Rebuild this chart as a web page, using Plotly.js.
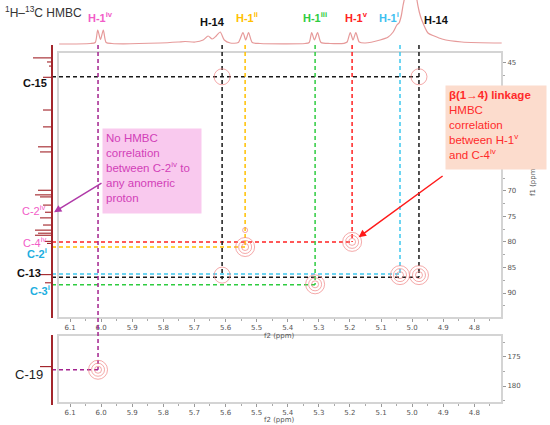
<!DOCTYPE html>
<html>
<head>
<meta charset="utf-8">
<title>1H-13C HMBC</title>
<script src="https://cdn.plot.ly/plotly-3.0.1.min.js"></script>
<style>
  html, body { margin: 0; padding: 0; background: #fff; }
  #hmbc { width: 550px; height: 425px; }
</style>
</head>
<body>
<div id="hmbc"></div>
<script>
(function() {
  "use strict";

  // 1H projection on top (ppm, intensity)
  var protonPpm = [6.135, 6.035, 6.019, 6.011, 6.002, 5.993, 5.984, 5.965, 5.810, 5.752,
                   5.730, 5.698, 5.672, 5.656, 5.643, 5.630, 5.617, 5.604, 5.585, 5.559,
                   5.544, 5.535, 5.526, 5.514, 5.489, 5.344, 5.331, 5.323, 5.314, 5.304,
                   5.293, 5.264, 5.219, 5.209, 5.199, 5.190, 5.181, 5.170, 5.151, 5.103,
                   5.077, 5.061, 5.049, 5.042, 5.035, 5.029, 5.023, 5.003, 4.985, 4.977,
                   4.969, 4.949, 4.929, 4.904, 4.840, 4.712];
  var protonInt = [0, 0.5, 1.5, 14, 4.5, 14, 1.5, 0.5, 1, 2,
                   2.5, 2, 4, 8, 5, 8, 12, 4, 1, 1.5,
                   11.5, 4, 11.5, 1.5, 0.5, 0.5, 1.5, 11.5, 4, 11.5,
                   1.5, 0.5, 0.7, 2, 11.5, 4, 11.5, 2, 1, 4,
                   7, 12, 19, 21, 28, 39, 48, 100, 45, 32,
                   24, 11, 8, 5, 2, 1];

  // 13C projection on the left (ppm, stick height)
  var carbonPpm = [44.0, 44.8, 45.6, 47.8, 54.2, 57.5, 61.4, 62.4, 69.9, 70.8, 71.2,
                   72.8, 74.2, 75.3, 76.7, 77.7, 78.3, 78.7, 79.9, 80.3, 86.4, 88.0];
  var carbonInt = [19, 5, 3, 9, 9, 9, 14, 12, 14, 17, 12,
                   9, 7, 12, 9, 17, 14, 17, 7, 5, 12, 7];
  var carbonLowPpm = [177.2];
  var carbonLowInt = [12];

  // cross peaks (f2 = 1H, f1 = 13C) and number of contour levels
  var peakF2 = [5.611, 4.978, 5.537, 5.537, 5.193, 5.611, 5.312, 5.039, 4.978];
  var peakF1 = [47.7, 47.7, 81.0, 77.7, 80.0, 86.5, 88.3, 86.5, 86.5];
  var peakLevels = [1, 1, 3, 0, 3, 1, 3, 3, 3];
  var lowPeakF2 = [6.010];
  var lowPeakF1 = [177.2];
  var lowPeakLevels = [3];

  // proton guide lines (vertical): position and where they stop
  var hLineF2 = [5.611, 5.537, 5.312, 5.193, 5.039, 4.978];
  var hLineEnd = [87.3, 81.0, 88.4, 80.0, 86.3, 86.9];
  var hLineColor = ["#1a1a1a", "#ffc000", "#2ecc40", "#ff2222", "#3ec8ee", "#1a1a1a"];
  var anomericF2 = 6.010;   // H-1iv, runs down to C-19

  // carbon guide lines (horizontal): position and where they stop
  var cLineF1 = [47.7, 80.0, 81.0, 86.3, 86.9, 88.4];
  var cLineEnd = [4.978, 5.193, 5.537, 5.039, 4.978, 5.312];
  var cLineColor = ["#1a1a1a", "#ff2222", "#ffc000", "#3ec8ee", "#1a1a1a", "#2ecc40"];
  var c19F1 = 177.2;

  // labels
  var protonLabels = ["H-1<sup>iv</sup>", "H-14", "H-1<sup>ii</sup>", "H-1<sup>iii</sup>",
                      "H-1<sup>v</sup>", "H-1<sup>i</sup>", "H-14"];
  var protonLabelF2 = [6.010, 5.611, 5.537, 5.312, 5.193, 5.039, 4.978];
  var carbonLabels = ["<b>C-15</b>", "C-2<sup>iv</sup>", "C-4<sup>iv</sup>", "<b>C-2<sup>i</sup></b>",
                      "<b>C-13</b>", "<b>C-3<sup>i</sup></b>"];
  var carbonLabelF1 = [47.7, 74.2, 80.0, 81.0, 86.5, 88.4];

  // axis ticks (50-65 sit under the callout box, so their labels are blank)
  var f2Ticks = [6.1, 6.0, 5.9, 5.8, 5.7, 5.6, 5.5, 5.4, 5.3, 5.2, 5.1, 5.0, 4.9, 4.8];
  var f2Minor = [6.05, 5.95, 5.85, 5.75, 5.65, 5.55, 5.45, 5.35, 5.25, 5.15, 5.05, 4.95, 4.85, 4.75];
  var f1Ticks = [45, 50, 55, 60, 65, 70, 75, 80, 85, 90];
  var f1TickText = ["45", "", "", "", "", "70", "75", "80", "85", "90"];
  var f1Minor = [47.5, 52.5, 57.5, 62.5, 67.5, 72.5, 77.5, 82.5, 87.5, 92.5];
  var f1LowTicks = [175, 180];
  var f1LowMinor = [172.5, 177.5, 182.5];


  var W = 550, H = 425;
  function px(x) { return x / W; }
  function py(y) { return 1 - y / H; }

  var f2Range = [6.158, 4.711];
  var f1Range = [94.89, 41.48];
  var f1LowRange = [182.93, 168.28];
  var ringColor = "#f08585";
  var ringSizes = { 0: [5], 1: [16], 3: [19, 13, 7] };
  var tickFont = { family: "DejaVu Sans, sans-serif", size: 7, color: "#555" };
  var labelFont = "Liberation Sans, Arial, sans-serif";


  function dashed(x, y, color, xa, ya) {
    return {
      type: "scatter", mode: "lines", x: x, y: y, xaxis: xa, yaxis: ya,
      line: { color: color, width: 1.5, dash: "4px,3px" },
      hoverinfo: "skip", showlegend: false
    };
  }


  function rings(f2, f1, levels, xa, ya) {
    var out = [];
    for (var k = 0; k < 3; k += 1) {
      var xs = [], ys = [], sizes = [];
      for (var i = 0; i < f2.length; i += 1) {
        var s = ringSizes[levels[i]];
        if (k < s.length) {
          xs.push(f2[i]);
          ys.push(f1[i]);
          sizes.push(s[k]);
        }
      }
      out.push({
        type: "scatter", mode: "markers", x: xs, y: ys, xaxis: xa, yaxis: ya,
        marker: { symbol: "circle-open", size: sizes, color: ringColor, line: { width: 1, color: ringColor } },
        hoverinfo: "skip", showlegend: false
      });
    }
    return out;
  }


  // annotation helper: always centred, plotly's auto anchors shift paper positions
  function label(opts) {
    var a = { showarrow: false, xanchor: "center", yanchor: "middle" };
    for (var k in opts) { a[k] = opts[k]; }
    return a;
  }


  function main() {
    var data = [];

    data.push({
      type: "scatter", mode: "lines", x: protonPpm, y: protonInt, xaxis: "x", yaxis: "y3",
      line: { color: "#e69a9a", width: 1.2, shape: "spline", smoothing: 0.7 },
      hoverinfo: "skip", showlegend: false
    });

    data.push({
      type: "bar", orientation: "h", x: carbonInt, y: carbonPpm, xaxis: "x3", yaxis: "y",
      width: 0.22, marker: { color: "#a3262c" }, hoverinfo: "skip", showlegend: false
    });
    data.push({
      type: "bar", orientation: "h", x: carbonLowInt, y: carbonLowPpm, xaxis: "x4", yaxis: "y4",
      width: 0.22, marker: { color: "#a3262c" }, hoverinfo: "skip", showlegend: false
    });

    var i;
    for (i = 0; i < cLineF1.length; i += 1) {
      data.push(dashed([f2Range[0], cLineEnd[i]], [cLineF1[i], cLineF1[i]], cLineColor[i], "x", "y"));
    }
    for (i = 0; i < hLineF2.length; i += 1) {
      data.push(dashed([hLineF2[i], hLineF2[i]], [f1Range[1], hLineEnd[i]], hLineColor[i], "x", "y"));
    }
    data.push(dashed([anomericF2, anomericF2], [f1Range[1], f1Range[0]], "#a3238f", "x", "y"));
    data.push(dashed([anomericF2, anomericF2], [f1LowRange[1], c19F1], "#a3238f", "x2", "y2"));
    data.push(dashed([f2Range[0], anomericF2], [c19F1, c19F1], "#a3238f", "x2", "y2"));

    data = data.concat(rings(peakF2, peakF1, peakLevels, "x", "y"));
    data = data.concat(rings(lowPeakF2, lowPeakF1, lowPeakLevels, "x2", "y2"));

    var xTicks = {
      range: f2Range, tickmode: "array", tickvals: f2Ticks,
      ticktext: f2Ticks.map(function(v) { return v.toFixed(1); }),
      ticks: "outside", ticklen: 3, tickcolor: "#999", tickfont: tickFont,
      minor: { tickmode: "array", tickvals: f2Minor, ticks: "outside", ticklen: 2, tickcolor: "#aaa" },
      showgrid: false, zeroline: false, showline: false
    };

    var annotations = [];
    annotations.push(label({
      xref: "paper", yref: "paper", x: px(3), y: py(12), xanchor: "left",
      text: "<sup>1</sup>H\u2013<sup>13</sup>C HMBC", font: { family: labelFont, size: 12, color: "#333" }
    }));

    var protonColors = ["#f25cc8", "#111", "#ffc000", "#2ecc40", "#ff2222", "#3ec0f0", "#111"];
    var protonShift = [2, -10, 2, 0, 4, -11, 18];
    var protonY = [17, 22, 17, 17, 17, 17, 20];
    for (i = 0; i < protonLabels.length; i += 1) {
      annotations.push(label({
        xref: "x", yref: "paper", x: protonLabelF2[i], y: py(protonY[i]), xshift: protonShift[i],
        text: "<b>" + protonLabels[i] + "</b>",
        font: { family: labelFont, size: 11, color: protonColors[i] }
      }));
    }

    var carbonColors = ["#111", "#f25cc8", "#f25cc8", "#20aee0", "#111", "#20aee0"];
    var carbonX = [35, 33, 34, 37, 29, 40];
    var carbonShift = [-6, 2, 0, -6, 2, -5];
    for (i = 0; i < carbonLabels.length; i += 1) {
      annotations.push(label({
        xref: "paper", yref: "y", x: px(carbonX[i]), y: carbonLabelF1[i], yshift: carbonShift[i],
        text: carbonLabels[i],
        font: { family: labelFont, size: 11, color: carbonColors[i] }
      }));
    }
    annotations.push(label({
      xref: "paper", yref: "y2", x: px(29), y: c19F1, yshift: -5,
      text: "C-19", font: { family: labelFont, size: 13, color: "#222" }
    }));

    annotations.push(label({
      xref: "paper", yref: "paper", x: px(533), y: py(181), textangle: -90,
      text: "f1 (ppm)", font: tickFont
    }));
    annotations.push(label({
      xref: "paper", yref: "paper", x: px(279), y: py(336),
      text: "f2 (ppm)", font: tickFont
    }));
    annotations.push(label({
      xref: "paper", yref: "paper", x: px(279), y: py(420),
      text: "f2 (ppm)", font: tickFont
    }));

    annotations.push(label({
      xref: "paper", yref: "paper", x: px(102), y: py(128), xanchor: "left", yanchor: "top",
      width: 92, height: 78, borderpad: 3, align: "left", valign: "top",
      bgcolor: "#f9c9ee",
      text: "No HMBC<br>correlation<br>between C-2<sup>iv</sup> to<br>any anomeric<br>proton",
      font: { family: labelFont, size: 11.5, color: "#d23fb8" }
    }));
    annotations.push(label({
      xref: "paper", yref: "paper", x: px(445), y: py(85), xanchor: "left", yanchor: "top",
      width: 94, height: 77, borderpad: 3, align: "left", valign: "top",
      bgcolor: "#fcdccd",
      text: "<b>\u03b2(1\u21924) linkage</b><br>HMBC<br>correlation<br>between H-1<sup>v</sup><br>and C-4<sup>iv</sup>",
      font: { family: labelFont, size: 11.5, color: "#ff2a2a" }
    }));

    annotations.push({
      xref: "paper", yref: "y", x: px(54), y: 74.2, text: "", showarrow: true,
      ax: 49, ay: -30, arrowcolor: "#b03aa8", arrowwidth: 1.5, arrowhead: 2, arrowsize: 1
    });
    annotations.push({
      xref: "x", yref: "y", x: 5.193, y: 80.0, text: "", showarrow: true, standoff: 8,
      ax: 92, ay: -67, arrowcolor: "#ff1a1a", arrowwidth: 1.5, arrowhead: 2, arrowsize: 1
    });

    var layout = {
      width: W, height: H, autosize: false,
      margin: { l: 0, r: 0, t: 0, b: 0 },
      paper_bgcolor: "#fff", plot_bgcolor: "rgba(0,0,0,0)",
      showlegend: false,
      xaxis: Object.assign({ domain: [px(52), px(502)], anchor: "y" }, xTicks),
      xaxis2: Object.assign({ domain: [px(52), px(502)], anchor: "y2" }, xTicks),
      yaxis: {
        domain: [py(318), py(45)], range: f1Range, anchor: "x", side: "right",
        tickmode: "array", tickvals: f1Ticks, ticktext: f1TickText,
        ticks: "outside", ticklen: 3, tickcolor: "#999", tickfont: tickFont,
        minor: { tickmode: "array", tickvals: f1Minor, ticks: "outside", ticklen: 2, tickcolor: "#aaa" },
        showgrid: false, zeroline: false, showline: false
      },
      yaxis2: {
        domain: [py(403), py(318)], range: f1LowRange, anchor: "x2", side: "right",
        tickmode: "array", tickvals: f1LowTicks, ticks: "outside", ticklen: 3, tickcolor: "#999",
        tickfont: tickFont,
        minor: { tickmode: "array", tickvals: f1LowMinor, ticks: "outside", ticklen: 2, tickcolor: "#aaa" },
        showgrid: false, zeroline: false, showline: false
      },
      yaxis3: {
        domain: [py(45), 1], range: [-1, 44], anchor: "x", visible: false
      },
      xaxis3: {
        domain: [px(28), px(53)], range: [24, -1], anchor: "y",
        showticklabels: false, ticks: "", showgrid: false, showline: false,
        zeroline: true, zerolinecolor: "#a3262c", zerolinewidth: 1.5
      },
      xaxis4: {
        domain: [px(28), px(53)], range: [24, -1], anchor: "y4",
        showticklabels: false, ticks: "", showgrid: false, showline: false,
        zeroline: true, zerolinecolor: "#a3262c", zerolinewidth: 1.5
      },
      yaxis4: {
        domain: [py(405), py(335)], range: [184.48, 171.21], anchor: "x4", visible: false
      },
      shapes: [
        { type: "rect", xref: "paper", yref: "paper", layer: "below",
          x0: px(58), x1: px(502), y0: py(318), y1: py(52),
          line: { color: "#d4d4d4", width: 2 } },
        { type: "rect", xref: "paper", yref: "paper", layer: "below",
          x0: px(58), x1: px(502), y0: py(403), y1: py(335),
          line: { color: "#d4d4d4", width: 2 } }
      ],
      annotations: annotations
    };

    Plotly.newPlot("hmbc", data, layout, { displayModeBar: false, staticPlot: true });
  }

  window.addEventListener("load", main, false);

})();
</script>
</body>
</html>
